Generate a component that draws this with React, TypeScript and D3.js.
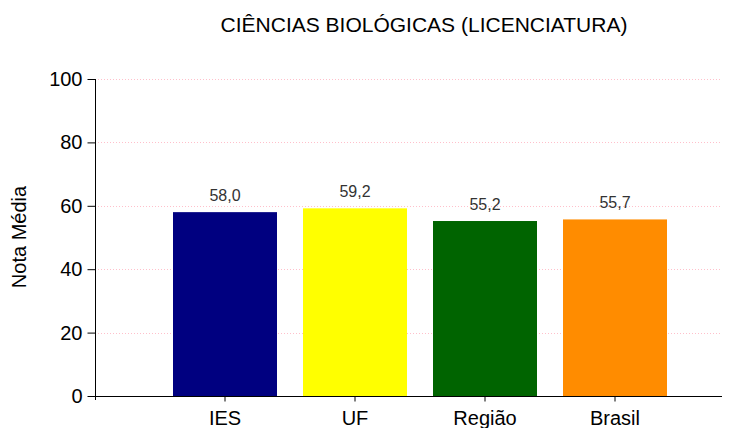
import { useEffect, useRef } from 'react'
import * as d3 from 'd3'

const categories = ['IES', 'UF', 'Região', 'Brasil']
const values = [58.0, 59.2, 55.2, 55.7]
const barColors = ['#000080', '#ffff00', '#006400', '#ff8c00']
const yTicks = [0, 20, 40, 60, 80, 100]
const title = 'CIÊNCIAS BIOLÓGICAS (LICENCIATURA)'
const yLabel = 'Nota Média'

const W = 737
const H = 428
const FONT = 'Liberation Sans, Arial, sans-serif'

function App() {
  const ref = useRef<SVGSVGElement | null>(null)

  useEffect(() => {
    const node = ref.current
    if (!node) return
    const svg = d3.select(node)
    svg.selectAll('*').remove()

    const left = 95
    const right = 722
    const x = d3.scaleBand<string>().domain(categories).range([160, 680]).paddingInner(0.2).paddingOuter(0.1)
    const y = d3.scaleLinear().domain([0, 100]).range([396, 79])

    svg
      .append('text')
      .attr('x', 424)
      .attr('y', 32)
      .attr('text-anchor', 'middle')
      .attr('font-family', FONT)
      .attr('font-size', 21)
      .attr('fill', '#000')
      .text(title)

    // gridlines
    svg
      .append('g')
      .selectAll('line')
      .data(yTicks.filter((t) => t > 0))
      .enter()
      .append('line')
      .attr('x1', left)
      .attr('x2', right)
      .attr('y1', (d) => Math.round(y(d)) + 0.5)
      .attr('y2', (d) => Math.round(y(d)) + 0.5)
      .attr('stroke', '#ffc0cb')
      .attr('stroke-dasharray', '1,2')

    // bars
    svg
      .append('g')
      .selectAll('rect')
      .data(values)
      .enter()
      .append('rect')
      .attr('x', (_, i) => x(categories[i]) as number)
      .attr('width', x.bandwidth())
      .attr('y', (d) => y(d))
      .attr('height', (d) => y(0) - y(d))
      .attr('fill', (_, i) => barColors[i])

    // value labels
    svg
      .append('g')
      .selectAll('text')
      .data(values)
      .enter()
      .append('text')
      .attr('x', (_, i) => (x(categories[i]) as number) + x.bandwidth() / 2)
      .attr('y', (d) => y(d) - 11)
      .attr('text-anchor', 'middle')
      .attr('font-family', FONT)
      .attr('font-size', 16)
      .attr('fill', '#333')
      .text((d) => d.toFixed(1).replace('.', ','))

    // y axis
    const yAxis = svg
      .append('g')
      .attr('transform', `translate(${left + 0.5},0)`)
      .call(d3.axisLeft(y).tickValues(yTicks).tickSize(8).tickPadding(5).tickSizeOuter(0))
    yAxis.select('.domain').attr('stroke', '#000').attr('d', `M0,${y(100)}V${y(0) + 4}`)
    yAxis.selectAll('line').attr('stroke', '#000')
    yAxis
      .selectAll('text')
      .attr('font-family', FONT)
      .attr('font-size', 20)
      .attr('fill', '#000')

    // x axis
    const xAxis = svg
      .append('g')
      .attr('transform', `translate(0,${Math.round(y(0)) + 0.5})`)
      .call(d3.axisBottom(x).tickSize(5).tickSizeOuter(0))
    xAxis.select('.domain').attr('stroke', '#000').attr('d', `M${left},0H${right}`)
    xAxis.selectAll('line').attr('stroke', '#000')
    xAxis
      .selectAll('text')
      .attr('y', 28.5)
      .attr('dy', 0)
      .attr('font-family', FONT)
      .attr('font-size', 20)
      .attr('fill', '#000')

    svg
      .append('text')
      .attr('transform', `translate(26,237) rotate(-90)`)
      .attr('text-anchor', 'middle')
      .attr('font-family', FONT)
      .attr('font-size', 20)
      .attr('fill', '#000')
      .text(yLabel)
  }, [])

  return (
    <svg
      ref={ref}
      width={W}
      height={H}
      style={{ position: 'absolute', left: 0, top: 0, background: '#fff' }}
    />
  )
}

export default App
